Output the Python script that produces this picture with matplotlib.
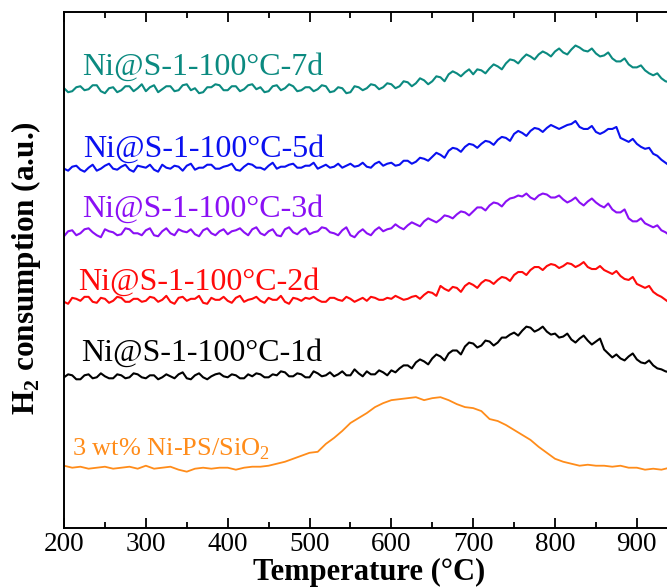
import matplotlib
matplotlib.use("Agg")
import matplotlib.pyplot as plt
import numpy as np

plt.rcParams['font.family'] = ['Liberation Serif', 'DejaVu Serif']
plt.rcParams['mathtext.fontset'] = 'custom'
plt.rcParams['mathtext.rm'] = 'Liberation Serif'
plt.rcParams['mathtext.bf'] = 'Liberation Serif:bold'

# temperature grids (°C)
temp = np.arange(200, 941, 5)
temp_ps = np.arange(200, 941, 10)

# H2 consumption signal above each baseline (a.u.)
d7 = [1, -3, -2, 2, 3, -1, 0, 4, 4, -2, -4, 1, 2, -3, -1, 3, 3, -2, 1, 5,
      -2, 2, 4, -3, 0, 3, 3, -2, -1, 4, 5, -1, 1, -4, -3, 2, 2, 5, 4, -1,
      -1, 3, 3, -2, 0, 4, 5, 0, 2, -3, -2, 3, 4, -1, 1, 5, 3, -2, -1, 2,
      2, -2, 0, 4, 3, -3, -2, 2, 1, -4, -3, 3, 2, -1, 1, 5, 4, 0, 2, 6,
      5, 1, 3, 8, 7, 3, 6, 11, 9, 5, 8, 13, 12, 8, 15, 18, 16, 13, 17, 20,
      15, 20, 19, 16, 21, 25, 23, 20, 26, 30, 29, 26, 31, 35, 33, 30, 35, 38, 36, 33,
      38, 41, 37, 35, 40, 44, 42, 39, 38, 41, 36, 33, 34, 37, 31, 28, 28, 31, 25, 22,
      22, 24, 19, 16, 14, 16, 11, 8, 7]
d5 = [0, -2, 2, 3, -1, -3, 1, 4, -2, 0, 3, 5, 0, -1, 2, 4, -1, -3, 3, 2,
      1, 4, -1, -3, 4, 1, 0, 3, 2, -2, 3, 5, -1, 1, 1, 4, 4, 0, 0, 2,
      3, 5, -1, -2, 2, 5, 4, 1, 1, -1, 3, 6, 0, 2, 2, 4, 5, 1, 1, 3,
      3, 6, 0, 2, 4, 1, 2, 5, 1, 3, 5, 2, 3, 6, 2, 1, 5, 7, 3, 5,
      6, 3, 4, 8, 8, 5, 7, 11, 10, 8, 12, 16, 14, 11, 18, 21, 20, 17, 22, 25,
      24, 21, 25, 28, 27, 24, 29, 32, 31, 28, 35, 38, 36, 33, 38, 41, 40, 37, 41, 44,
      42, 40, 42, 44, 45, 48, 42, 40, 40, 43, 37, 35, 37, 40, 40, 42, 31, 29, 27, 30,
      25, 22, 20, 21, 15, 13, 9, 6, 3]
d3 = [-3, 2, 3, -2, 0, 4, 5, 1, -2, -4, 4, 2, 1, -2, -1, 5, 4, 0, 0, -2,
      3, 5, -2, -3, 2, 5, 0, -2, 4, 2, 1, 4, -1, -3, 3, 5, 0, -2, 2, 4,
      -1, 2, 3, 5, 1, -2, 4, 6, 0, -2, 2, 4, -2, -3, 4, 6, 1, -1, 3, 5,
      -1, 1, 2, 6, 5, 1, 0, -2, 3, 6, -2, -4, 1, 4, 0, -2, 3, 6, 2, 4,
      5, 9, 6, 4, 8, 11, 9, 7, 12, 15, 13, 11, 14, 18, 17, 15, 19, 22, 21, 18,
      22, 26, 26, 23, 28, 31, 30, 27, 32, 35, 36, 38, 37, 40, 36, 34, 38, 40, 39, 36,
      36, 38, 34, 31, 33, 36, 31, 28, 32, 35, 31, 28, 26, 30, 24, 21, 21, 24, 15, 12,
      12, 15, 10, 8, 6, 8, 3, 1, -2]
d2 = [-1, -3, 3, 2, 0, 4, 4, -1, -2, 3, 2, -2, 0, 4, 3, -1, -1, 2, 2, -1,
      0, 4, 3, -1, 1, 5, -1, -3, 3, 4, 0, 2, 2, 5, -2, -3, 3, 1, 1, 4,
      0, -2, 3, 5, -1, 1, 2, 4, 0, -2, 3, 1, 1, 5, -1, -3, 3, 2, 0, 3,
      2, 4, 1, -1, -1, 3, 3, 1, 0, 4, 2, -1, 1, 3, 0, 4, 3, 1, 1, 3,
      2, 5, 3, 1, 2, 4, 5, 2, 6, 9, 8, 5, 15, 12, 10, 14, 13, 9, 15, 18,
      16, 13, 18, 21, 20, 17, 21, 24, 23, 20, 26, 29, 29, 26, 31, 34, 34, 31, 35, 37,
      36, 33, 35, 38, 37, 34, 36, 39, 34, 32, 32, 35, 31, 29, 27, 30, 25, 22, 21, 24,
      17, 15, 13, 15, 9, 6, 4, 1, -2]
d1 = [0, 3, 2, -2, -2, 2, 3, -1, 0, 4, 1, -1, -1, 3, 2, -1, 0, 4, 3, 0,
      -1, 2, 2, -2, 0, 3, 1, -1, 3, 5, -1, -2, 2, 4, 0, -2, 1, 3, 4, 1,
      0, 3, 2, -1, -1, 3, 1, 4, 3, 0, 0, 3, 2, 6, 5, 1, 1, 4, 3, 0,
      0, 6, 4, 1, 2, 5, 1, 3, 6, 2, 2, 8, 4, 1, 6, 3, 3, 7, 5, 2,
      7, 5, 9, 12, 12, 9, 15, 18, 16, 13, 19, 23, 21, 17, 24, 27, 27, 23, 31, 35,
      34, 30, 32, 37, 36, 32, 35, 40, 40, 43, 45, 42, 47, 51, 50, 46, 48, 51, 46, 43,
      44, 40, 41, 44, 38, 35, 39, 42, 37, 33, 36, 39, 28, 24, 20, 23, 19, 17, 21, 24,
      18, 15, 14, 17, 12, 9, 8, 6, 5]
ps = [2, 0, 1, -1, 0, 1, -1, 0, 1, -1,
      2, -1, 0, 1, -2, -4, -1, 0, -1, 0,
      0, -2, 0, 1, 1, 2, 4, 6, 9, 12,
      15, 16, 24, 30, 37, 45, 50, 55, 61, 65,
      68, 69, 70, 71, 68, 70, 71, 68, 64, 61,
      60, 57, 49, 47, 43, 38, 33, 28, 21, 15,
      9, 6, 4, 2, 3, 2, 2, 1, 2, 0,
      0, -2, -1, -2, 0]

series = [d7, d5, d3, d2, d1]
labels = ['Ni@S-1-100°C-7d', 'Ni@S-1-100°C-5d', 'Ni@S-1-100°C-3d',
          'Ni@S-1-100°C-2d', 'Ni@S-1-100°C-1d']
colors = ['#0b8a80', '#0a10f0', '#8a10f5', '#ff0a0a', '#000000']
offsets = [442, 362, 297, 229, 152]
label_xy = [(222, 457), (223, 374), (222, 314), (217, 240), (221, 169)]

ps_label = '3 wt% Ni-PS/SiO$_2$'
ps_color = '#ff8c1a'
ps_offset = 61

fig = plt.figure(figsize=(6.67, 5.87), dpi=100)
ax = fig.add_axes([0.096, 0.1, 0.914, 0.88])

for y, lab, c, off, (tx, ty) in zip(series, labels, colors, offsets, label_xy):
    ax.plot(temp, np.array(y) + off, color=c, lw=1.5)
    ax.text(tx, ty, lab, color=c, fontsize=23, va='baseline', ha='left')

ax.plot(temp_ps, np.array(ps) + ps_offset, color=ps_color, lw=1.3)
ax.text(210, 73, ps_label, color=ps_color, fontsize=19, va='baseline', ha='left')

ax.set_xlim(200, 945)
ax.set_ylim(0, 520)
ax.set_yticks([])
ax.set_xticks(np.arange(200, 901, 100))
ax.set_xticks(np.arange(250, 950, 100), minor=True)
ax.tick_params(axis='x', which='both', direction='in', top=True, labelsize=19.5, pad=3)
ax.tick_params(axis='x', which='major', length=7, width=1.3)
ax.tick_params(axis='x', which='minor', length=4, width=1.3)
for s in ['left', 'top', 'bottom']:
    ax.spines[s].set_linewidth(1.4)
ax.spines['right'].set_visible(False)

fig.text(0.553, 0.0125, 'Temperature (°C)', fontsize=22, fontweight='bold',
         ha='center', va='baseline')
fig.text(0.039, 0.543, 'H$_\\mathbf{2}$ consumption (a.u.)', fontsize=22.5, fontweight='bold',
         rotation=90, ha='center', va='center')

plt.savefig('out.png', dpi=100)
